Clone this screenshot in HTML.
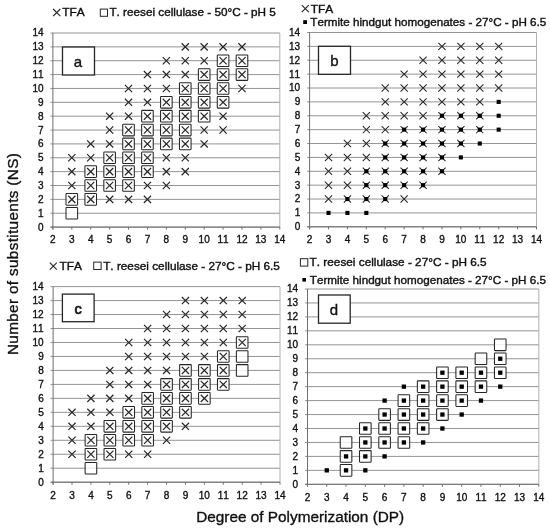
<!DOCTYPE html>
<html><head><meta charset="utf-8"><title>Figure</title>
<style>
html,body{margin:0;padding:0;background:#fff;}
body{width:550px;height:529px;overflow:hidden;}
svg{will-change:transform;}
svg{display:block;font-family:"Liberation Sans",sans-serif;font-kerning:none;}
text{stroke:#111;stroke-width:0.35px;}
</style></head><body>
<svg width="550" height="529" viewBox="0 0 550 529">
<rect width="550" height="529" fill="#fff"/>
<line x1="50.40" y1="227.10" x2="279.80" y2="227.10" stroke="#949494" stroke-width="1"/>
<line x1="50.40" y1="213.24" x2="279.80" y2="213.24" stroke="#949494" stroke-width="1"/>
<line x1="50.40" y1="199.37" x2="279.80" y2="199.37" stroke="#949494" stroke-width="1"/>
<line x1="50.40" y1="185.51" x2="279.80" y2="185.51" stroke="#949494" stroke-width="1"/>
<line x1="50.40" y1="171.64" x2="279.80" y2="171.64" stroke="#949494" stroke-width="1"/>
<line x1="50.40" y1="157.78" x2="279.80" y2="157.78" stroke="#949494" stroke-width="1"/>
<line x1="50.40" y1="143.91" x2="279.80" y2="143.91" stroke="#949494" stroke-width="1"/>
<line x1="50.40" y1="130.05" x2="279.80" y2="130.05" stroke="#949494" stroke-width="1"/>
<line x1="50.40" y1="116.19" x2="279.80" y2="116.19" stroke="#949494" stroke-width="1"/>
<line x1="50.40" y1="102.32" x2="279.80" y2="102.32" stroke="#949494" stroke-width="1"/>
<line x1="50.40" y1="88.46" x2="279.80" y2="88.46" stroke="#949494" stroke-width="1"/>
<line x1="50.40" y1="74.59" x2="279.80" y2="74.59" stroke="#949494" stroke-width="1"/>
<line x1="50.40" y1="60.73" x2="279.80" y2="60.73" stroke="#949494" stroke-width="1"/>
<line x1="50.40" y1="46.86" x2="279.80" y2="46.86" stroke="#949494" stroke-width="1"/>
<line x1="50.40" y1="33.00" x2="279.80" y2="33.00" stroke="#949494" stroke-width="1"/>
<line x1="279.80" y1="33.00" x2="279.80" y2="227.10" stroke="#b0b0b0" stroke-width="1"/>
<line x1="52.90" y1="33.00" x2="52.90" y2="229.60" stroke="#6e6e6e" stroke-width="1"/>
<line x1="50.40" y1="227.10" x2="279.80" y2="227.10" stroke="#6e6e6e" stroke-width="1"/>
<line x1="52.90" y1="227.10" x2="52.90" y2="229.60" stroke="#6e6e6e" stroke-width="1"/>
<text x="52.90" y="243.40" font-size="10.0" text-anchor="middle" fill="#111">2</text>
<line x1="71.81" y1="227.10" x2="71.81" y2="229.60" stroke="#6e6e6e" stroke-width="1"/>
<text x="71.81" y="243.40" font-size="10.0" text-anchor="middle" fill="#111">3</text>
<line x1="90.72" y1="227.10" x2="90.72" y2="229.60" stroke="#6e6e6e" stroke-width="1"/>
<text x="90.72" y="243.40" font-size="10.0" text-anchor="middle" fill="#111">4</text>
<line x1="109.62" y1="227.10" x2="109.62" y2="229.60" stroke="#6e6e6e" stroke-width="1"/>
<text x="109.62" y="243.40" font-size="10.0" text-anchor="middle" fill="#111">5</text>
<line x1="128.53" y1="227.10" x2="128.53" y2="229.60" stroke="#6e6e6e" stroke-width="1"/>
<text x="128.53" y="243.40" font-size="10.0" text-anchor="middle" fill="#111">6</text>
<line x1="147.44" y1="227.10" x2="147.44" y2="229.60" stroke="#6e6e6e" stroke-width="1"/>
<text x="147.44" y="243.40" font-size="10.0" text-anchor="middle" fill="#111">7</text>
<line x1="166.35" y1="227.10" x2="166.35" y2="229.60" stroke="#6e6e6e" stroke-width="1"/>
<text x="166.35" y="243.40" font-size="10.0" text-anchor="middle" fill="#111">8</text>
<line x1="185.26" y1="227.10" x2="185.26" y2="229.60" stroke="#6e6e6e" stroke-width="1"/>
<text x="185.26" y="243.40" font-size="10.0" text-anchor="middle" fill="#111">9</text>
<line x1="204.17" y1="227.10" x2="204.17" y2="229.60" stroke="#6e6e6e" stroke-width="1"/>
<text x="204.17" y="243.40" font-size="10.0" text-anchor="middle" fill="#111">10</text>
<line x1="223.08" y1="227.10" x2="223.08" y2="229.60" stroke="#6e6e6e" stroke-width="1"/>
<text x="223.08" y="243.40" font-size="10.0" text-anchor="middle" fill="#111">11</text>
<line x1="241.98" y1="227.10" x2="241.98" y2="229.60" stroke="#6e6e6e" stroke-width="1"/>
<text x="241.98" y="243.40" font-size="10.0" text-anchor="middle" fill="#111">12</text>
<line x1="260.89" y1="227.10" x2="260.89" y2="229.60" stroke="#6e6e6e" stroke-width="1"/>
<text x="260.89" y="243.40" font-size="10.0" text-anchor="middle" fill="#111">13</text>
<line x1="279.80" y1="227.10" x2="279.80" y2="229.60" stroke="#6e6e6e" stroke-width="1"/>
<text x="279.80" y="243.40" font-size="10.0" text-anchor="middle" fill="#111">14</text>
<text x="43.50" y="230.55" font-size="10.0" text-anchor="end" fill="#111">0</text>
<text x="43.50" y="216.69" font-size="10.0" text-anchor="end" fill="#111">1</text>
<text x="43.50" y="202.82" font-size="10.0" text-anchor="end" fill="#111">2</text>
<text x="43.50" y="188.96" font-size="10.0" text-anchor="end" fill="#111">3</text>
<text x="43.50" y="175.09" font-size="10.0" text-anchor="end" fill="#111">4</text>
<text x="43.50" y="161.23" font-size="10.0" text-anchor="end" fill="#111">5</text>
<text x="43.50" y="147.36" font-size="10.0" text-anchor="end" fill="#111">6</text>
<text x="43.50" y="133.50" font-size="10.0" text-anchor="end" fill="#111">7</text>
<text x="43.50" y="119.64" font-size="10.0" text-anchor="end" fill="#111">8</text>
<text x="43.50" y="105.77" font-size="10.0" text-anchor="end" fill="#111">9</text>
<text x="43.50" y="91.91" font-size="10.0" text-anchor="end" fill="#111">10</text>
<text x="43.50" y="78.04" font-size="10.0" text-anchor="end" fill="#111">11</text>
<text x="43.50" y="64.18" font-size="10.0" text-anchor="end" fill="#111">12</text>
<text x="43.50" y="50.31" font-size="10.0" text-anchor="end" fill="#111">13</text>
<text x="43.50" y="36.45" font-size="10.0" text-anchor="end" fill="#111">14</text>
<rect x="66.01" y="207.44" width="11.60" height="11.60" rx="0.6" fill="#fff" fill-opacity="0.8" stroke="#262626" stroke-width="1.05"/>
<rect x="66.01" y="193.57" width="11.60" height="11.60" rx="0.6" fill="#fff" fill-opacity="0.8" stroke="#262626" stroke-width="1.05"/>
<rect x="84.92" y="193.57" width="11.60" height="11.60" rx="0.6" fill="#fff" fill-opacity="0.8" stroke="#262626" stroke-width="1.05"/>
<rect x="84.92" y="179.71" width="11.60" height="11.60" rx="0.6" fill="#fff" fill-opacity="0.8" stroke="#262626" stroke-width="1.05"/>
<rect x="84.92" y="165.84" width="11.60" height="11.60" rx="0.6" fill="#fff" fill-opacity="0.8" stroke="#262626" stroke-width="1.05"/>
<rect x="103.83" y="179.71" width="11.60" height="11.60" rx="0.6" fill="#fff" fill-opacity="0.8" stroke="#262626" stroke-width="1.05"/>
<rect x="103.83" y="165.84" width="11.60" height="11.60" rx="0.6" fill="#fff" fill-opacity="0.8" stroke="#262626" stroke-width="1.05"/>
<rect x="103.83" y="151.98" width="11.60" height="11.60" rx="0.6" fill="#fff" fill-opacity="0.8" stroke="#262626" stroke-width="1.05"/>
<rect x="122.73" y="179.71" width="11.60" height="11.60" rx="0.6" fill="#fff" fill-opacity="0.8" stroke="#262626" stroke-width="1.05"/>
<rect x="122.73" y="165.84" width="11.60" height="11.60" rx="0.6" fill="#fff" fill-opacity="0.8" stroke="#262626" stroke-width="1.05"/>
<rect x="122.73" y="151.98" width="11.60" height="11.60" rx="0.6" fill="#fff" fill-opacity="0.8" stroke="#262626" stroke-width="1.05"/>
<rect x="122.73" y="138.11" width="11.60" height="11.60" rx="0.6" fill="#fff" fill-opacity="0.8" stroke="#262626" stroke-width="1.05"/>
<rect x="122.73" y="124.25" width="11.60" height="11.60" rx="0.6" fill="#fff" fill-opacity="0.8" stroke="#262626" stroke-width="1.05"/>
<rect x="141.64" y="165.84" width="11.60" height="11.60" rx="0.6" fill="#fff" fill-opacity="0.8" stroke="#262626" stroke-width="1.05"/>
<rect x="141.64" y="151.98" width="11.60" height="11.60" rx="0.6" fill="#fff" fill-opacity="0.8" stroke="#262626" stroke-width="1.05"/>
<rect x="141.64" y="138.11" width="11.60" height="11.60" rx="0.6" fill="#fff" fill-opacity="0.8" stroke="#262626" stroke-width="1.05"/>
<rect x="141.64" y="124.25" width="11.60" height="11.60" rx="0.6" fill="#fff" fill-opacity="0.8" stroke="#262626" stroke-width="1.05"/>
<rect x="141.64" y="110.39" width="11.60" height="11.60" rx="0.6" fill="#fff" fill-opacity="0.8" stroke="#262626" stroke-width="1.05"/>
<rect x="160.55" y="138.11" width="11.60" height="11.60" rx="0.6" fill="#fff" fill-opacity="0.8" stroke="#262626" stroke-width="1.05"/>
<rect x="160.55" y="124.25" width="11.60" height="11.60" rx="0.6" fill="#fff" fill-opacity="0.8" stroke="#262626" stroke-width="1.05"/>
<rect x="160.55" y="110.39" width="11.60" height="11.60" rx="0.6" fill="#fff" fill-opacity="0.8" stroke="#262626" stroke-width="1.05"/>
<rect x="160.55" y="96.52" width="11.60" height="11.60" rx="0.6" fill="#fff" fill-opacity="0.8" stroke="#262626" stroke-width="1.05"/>
<rect x="179.46" y="138.11" width="11.60" height="11.60" rx="0.6" fill="#fff" fill-opacity="0.8" stroke="#262626" stroke-width="1.05"/>
<rect x="179.46" y="124.25" width="11.60" height="11.60" rx="0.6" fill="#fff" fill-opacity="0.8" stroke="#262626" stroke-width="1.05"/>
<rect x="179.46" y="110.39" width="11.60" height="11.60" rx="0.6" fill="#fff" fill-opacity="0.8" stroke="#262626" stroke-width="1.05"/>
<rect x="179.46" y="96.52" width="11.60" height="11.60" rx="0.6" fill="#fff" fill-opacity="0.8" stroke="#262626" stroke-width="1.05"/>
<rect x="179.46" y="82.66" width="11.60" height="11.60" rx="0.6" fill="#fff" fill-opacity="0.8" stroke="#262626" stroke-width="1.05"/>
<rect x="198.37" y="110.39" width="11.60" height="11.60" rx="0.6" fill="#fff" fill-opacity="0.8" stroke="#262626" stroke-width="1.05"/>
<rect x="198.37" y="96.52" width="11.60" height="11.60" rx="0.6" fill="#fff" fill-opacity="0.8" stroke="#262626" stroke-width="1.05"/>
<rect x="198.37" y="82.66" width="11.60" height="11.60" rx="0.6" fill="#fff" fill-opacity="0.8" stroke="#262626" stroke-width="1.05"/>
<rect x="198.37" y="68.79" width="11.60" height="11.60" rx="0.6" fill="#fff" fill-opacity="0.8" stroke="#262626" stroke-width="1.05"/>
<rect x="217.28" y="96.52" width="11.60" height="11.60" rx="0.6" fill="#fff" fill-opacity="0.8" stroke="#262626" stroke-width="1.05"/>
<rect x="217.28" y="82.66" width="11.60" height="11.60" rx="0.6" fill="#fff" fill-opacity="0.8" stroke="#262626" stroke-width="1.05"/>
<rect x="217.28" y="68.79" width="11.60" height="11.60" rx="0.6" fill="#fff" fill-opacity="0.8" stroke="#262626" stroke-width="1.05"/>
<rect x="217.28" y="54.93" width="11.60" height="11.60" rx="0.6" fill="#fff" fill-opacity="0.8" stroke="#262626" stroke-width="1.05"/>
<rect x="236.18" y="68.79" width="11.60" height="11.60" rx="0.6" fill="#fff" fill-opacity="0.8" stroke="#262626" stroke-width="1.05"/>
<rect x="236.18" y="54.93" width="11.60" height="11.60" rx="0.6" fill="#fff" fill-opacity="0.8" stroke="#262626" stroke-width="1.05"/>
<path d="M68.21 195.77L75.41 202.97M68.21 202.97L75.41 195.77" stroke="#262626" stroke-width="1.2" fill="none"/>
<path d="M68.21 181.91L75.41 189.11M68.21 189.11L75.41 181.91" stroke="#262626" stroke-width="1.2" fill="none"/>
<path d="M68.21 168.04L75.41 175.24M68.21 175.24L75.41 168.04" stroke="#262626" stroke-width="1.2" fill="none"/>
<path d="M68.21 154.18L75.41 161.38M68.21 161.38L75.41 154.18" stroke="#262626" stroke-width="1.2" fill="none"/>
<path d="M87.12 195.77L94.32 202.97M87.12 202.97L94.32 195.77" stroke="#262626" stroke-width="1.2" fill="none"/>
<path d="M87.12 181.91L94.32 189.11M87.12 189.11L94.32 181.91" stroke="#262626" stroke-width="1.2" fill="none"/>
<path d="M87.12 168.04L94.32 175.24M87.12 175.24L94.32 168.04" stroke="#262626" stroke-width="1.2" fill="none"/>
<path d="M87.12 154.18L94.32 161.38M87.12 161.38L94.32 154.18" stroke="#262626" stroke-width="1.2" fill="none"/>
<path d="M87.12 140.31L94.32 147.51M87.12 147.51L94.32 140.31" stroke="#262626" stroke-width="1.2" fill="none"/>
<path d="M106.03 195.77L113.22 202.97M106.03 202.97L113.22 195.77" stroke="#262626" stroke-width="1.2" fill="none"/>
<path d="M106.03 181.91L113.22 189.11M106.03 189.11L113.22 181.91" stroke="#262626" stroke-width="1.2" fill="none"/>
<path d="M106.03 168.04L113.22 175.24M106.03 175.24L113.22 168.04" stroke="#262626" stroke-width="1.2" fill="none"/>
<path d="M106.03 154.18L113.22 161.38M106.03 161.38L113.22 154.18" stroke="#262626" stroke-width="1.2" fill="none"/>
<path d="M106.03 140.31L113.22 147.51M106.03 147.51L113.22 140.31" stroke="#262626" stroke-width="1.2" fill="none"/>
<path d="M106.03 126.45L113.22 133.65M106.03 133.65L113.22 126.45" stroke="#262626" stroke-width="1.2" fill="none"/>
<path d="M106.03 112.59L113.22 119.79M106.03 119.79L113.22 112.59" stroke="#262626" stroke-width="1.2" fill="none"/>
<path d="M124.93 195.77L132.13 202.97M124.93 202.97L132.13 195.77" stroke="#262626" stroke-width="1.2" fill="none"/>
<path d="M124.93 181.91L132.13 189.11M124.93 189.11L132.13 181.91" stroke="#262626" stroke-width="1.2" fill="none"/>
<path d="M124.93 168.04L132.13 175.24M124.93 175.24L132.13 168.04" stroke="#262626" stroke-width="1.2" fill="none"/>
<path d="M124.93 154.18L132.13 161.38M124.93 161.38L132.13 154.18" stroke="#262626" stroke-width="1.2" fill="none"/>
<path d="M124.93 140.31L132.13 147.51M124.93 147.51L132.13 140.31" stroke="#262626" stroke-width="1.2" fill="none"/>
<path d="M124.93 126.45L132.13 133.65M124.93 133.65L132.13 126.45" stroke="#262626" stroke-width="1.2" fill="none"/>
<path d="M124.93 112.59L132.13 119.79M124.93 119.79L132.13 112.59" stroke="#262626" stroke-width="1.2" fill="none"/>
<path d="M124.93 98.72L132.13 105.92M124.93 105.92L132.13 98.72" stroke="#262626" stroke-width="1.2" fill="none"/>
<path d="M124.93 84.86L132.13 92.06M124.93 92.06L132.13 84.86" stroke="#262626" stroke-width="1.2" fill="none"/>
<path d="M143.84 195.77L151.04 202.97M143.84 202.97L151.04 195.77" stroke="#262626" stroke-width="1.2" fill="none"/>
<path d="M143.84 181.91L151.04 189.11M143.84 189.11L151.04 181.91" stroke="#262626" stroke-width="1.2" fill="none"/>
<path d="M143.84 168.04L151.04 175.24M143.84 175.24L151.04 168.04" stroke="#262626" stroke-width="1.2" fill="none"/>
<path d="M143.84 154.18L151.04 161.38M143.84 161.38L151.04 154.18" stroke="#262626" stroke-width="1.2" fill="none"/>
<path d="M143.84 140.31L151.04 147.51M143.84 147.51L151.04 140.31" stroke="#262626" stroke-width="1.2" fill="none"/>
<path d="M143.84 126.45L151.04 133.65M143.84 133.65L151.04 126.45" stroke="#262626" stroke-width="1.2" fill="none"/>
<path d="M143.84 112.59L151.04 119.79M143.84 119.79L151.04 112.59" stroke="#262626" stroke-width="1.2" fill="none"/>
<path d="M143.84 98.72L151.04 105.92M143.84 105.92L151.04 98.72" stroke="#262626" stroke-width="1.2" fill="none"/>
<path d="M143.84 84.86L151.04 92.06M143.84 92.06L151.04 84.86" stroke="#262626" stroke-width="1.2" fill="none"/>
<path d="M143.84 70.99L151.04 78.19M143.84 78.19L151.04 70.99" stroke="#262626" stroke-width="1.2" fill="none"/>
<path d="M162.75 181.91L169.95 189.11M162.75 189.11L169.95 181.91" stroke="#262626" stroke-width="1.2" fill="none"/>
<path d="M162.75 168.04L169.95 175.24M162.75 175.24L169.95 168.04" stroke="#262626" stroke-width="1.2" fill="none"/>
<path d="M162.75 154.18L169.95 161.38M162.75 161.38L169.95 154.18" stroke="#262626" stroke-width="1.2" fill="none"/>
<path d="M162.75 140.31L169.95 147.51M162.75 147.51L169.95 140.31" stroke="#262626" stroke-width="1.2" fill="none"/>
<path d="M162.75 126.45L169.95 133.65M162.75 133.65L169.95 126.45" stroke="#262626" stroke-width="1.2" fill="none"/>
<path d="M162.75 112.59L169.95 119.79M162.75 119.79L169.95 112.59" stroke="#262626" stroke-width="1.2" fill="none"/>
<path d="M162.75 98.72L169.95 105.92M162.75 105.92L169.95 98.72" stroke="#262626" stroke-width="1.2" fill="none"/>
<path d="M162.75 84.86L169.95 92.06M162.75 92.06L169.95 84.86" stroke="#262626" stroke-width="1.2" fill="none"/>
<path d="M162.75 70.99L169.95 78.19M162.75 78.19L169.95 70.99" stroke="#262626" stroke-width="1.2" fill="none"/>
<path d="M162.75 57.13L169.95 64.33M162.75 64.33L169.95 57.13" stroke="#262626" stroke-width="1.2" fill="none"/>
<path d="M181.66 168.04L188.86 175.24M181.66 175.24L188.86 168.04" stroke="#262626" stroke-width="1.2" fill="none"/>
<path d="M181.66 154.18L188.86 161.38M181.66 161.38L188.86 154.18" stroke="#262626" stroke-width="1.2" fill="none"/>
<path d="M181.66 140.31L188.86 147.51M181.66 147.51L188.86 140.31" stroke="#262626" stroke-width="1.2" fill="none"/>
<path d="M181.66 126.45L188.86 133.65M181.66 133.65L188.86 126.45" stroke="#262626" stroke-width="1.2" fill="none"/>
<path d="M181.66 112.59L188.86 119.79M181.66 119.79L188.86 112.59" stroke="#262626" stroke-width="1.2" fill="none"/>
<path d="M181.66 98.72L188.86 105.92M181.66 105.92L188.86 98.72" stroke="#262626" stroke-width="1.2" fill="none"/>
<path d="M181.66 84.86L188.86 92.06M181.66 92.06L188.86 84.86" stroke="#262626" stroke-width="1.2" fill="none"/>
<path d="M181.66 70.99L188.86 78.19M181.66 78.19L188.86 70.99" stroke="#262626" stroke-width="1.2" fill="none"/>
<path d="M181.66 57.13L188.86 64.33M181.66 64.33L188.86 57.13" stroke="#262626" stroke-width="1.2" fill="none"/>
<path d="M181.66 43.26L188.86 50.46M181.66 50.46L188.86 43.26" stroke="#262626" stroke-width="1.2" fill="none"/>
<path d="M200.57 140.31L207.77 147.51M200.57 147.51L207.77 140.31" stroke="#262626" stroke-width="1.2" fill="none"/>
<path d="M200.57 126.45L207.77 133.65M200.57 133.65L207.77 126.45" stroke="#262626" stroke-width="1.2" fill="none"/>
<path d="M200.57 112.59L207.77 119.79M200.57 119.79L207.77 112.59" stroke="#262626" stroke-width="1.2" fill="none"/>
<path d="M200.57 98.72L207.77 105.92M200.57 105.92L207.77 98.72" stroke="#262626" stroke-width="1.2" fill="none"/>
<path d="M200.57 84.86L207.77 92.06M200.57 92.06L207.77 84.86" stroke="#262626" stroke-width="1.2" fill="none"/>
<path d="M200.57 70.99L207.77 78.19M200.57 78.19L207.77 70.99" stroke="#262626" stroke-width="1.2" fill="none"/>
<path d="M200.57 57.13L207.77 64.33M200.57 64.33L207.77 57.13" stroke="#262626" stroke-width="1.2" fill="none"/>
<path d="M200.57 43.26L207.77 50.46M200.57 50.46L207.77 43.26" stroke="#262626" stroke-width="1.2" fill="none"/>
<path d="M219.48 126.45L226.68 133.65M219.48 133.65L226.68 126.45" stroke="#262626" stroke-width="1.2" fill="none"/>
<path d="M219.48 112.59L226.68 119.79M219.48 119.79L226.68 112.59" stroke="#262626" stroke-width="1.2" fill="none"/>
<path d="M219.48 98.72L226.68 105.92M219.48 105.92L226.68 98.72" stroke="#262626" stroke-width="1.2" fill="none"/>
<path d="M219.48 84.86L226.68 92.06M219.48 92.06L226.68 84.86" stroke="#262626" stroke-width="1.2" fill="none"/>
<path d="M219.48 70.99L226.68 78.19M219.48 78.19L226.68 70.99" stroke="#262626" stroke-width="1.2" fill="none"/>
<path d="M219.48 57.13L226.68 64.33M219.48 64.33L226.68 57.13" stroke="#262626" stroke-width="1.2" fill="none"/>
<path d="M219.48 43.26L226.68 50.46M219.48 50.46L226.68 43.26" stroke="#262626" stroke-width="1.2" fill="none"/>
<path d="M238.38 84.86L245.58 92.06M238.38 92.06L245.58 84.86" stroke="#262626" stroke-width="1.2" fill="none"/>
<path d="M238.38 70.99L245.58 78.19M238.38 78.19L245.58 70.99" stroke="#262626" stroke-width="1.2" fill="none"/>
<path d="M238.38 57.13L245.58 64.33M238.38 64.33L245.58 57.13" stroke="#262626" stroke-width="1.2" fill="none"/>
<path d="M238.38 43.26L245.58 50.46M238.38 50.46L245.58 43.26" stroke="#262626" stroke-width="1.2" fill="none"/>
<rect x="62.5" y="47" width="32.00" height="28.00" fill="#fff" stroke="#262626" stroke-width="1.3"/>
<text x="77.9" y="66.7" font-size="15" text-anchor="middle" fill="#111">a</text>
<line x1="307.10" y1="226.80" x2="536.50" y2="226.80" stroke="#949494" stroke-width="1"/>
<line x1="307.10" y1="212.92" x2="536.50" y2="212.92" stroke="#949494" stroke-width="1"/>
<line x1="307.10" y1="199.04" x2="536.50" y2="199.04" stroke="#949494" stroke-width="1"/>
<line x1="307.10" y1="185.16" x2="536.50" y2="185.16" stroke="#949494" stroke-width="1"/>
<line x1="307.10" y1="171.29" x2="536.50" y2="171.29" stroke="#949494" stroke-width="1"/>
<line x1="307.10" y1="157.41" x2="536.50" y2="157.41" stroke="#949494" stroke-width="1"/>
<line x1="307.10" y1="143.53" x2="536.50" y2="143.53" stroke="#949494" stroke-width="1"/>
<line x1="307.10" y1="129.65" x2="536.50" y2="129.65" stroke="#949494" stroke-width="1"/>
<line x1="307.10" y1="115.77" x2="536.50" y2="115.77" stroke="#949494" stroke-width="1"/>
<line x1="307.10" y1="101.89" x2="536.50" y2="101.89" stroke="#949494" stroke-width="1"/>
<line x1="307.10" y1="88.01" x2="536.50" y2="88.01" stroke="#949494" stroke-width="1"/>
<line x1="307.10" y1="74.14" x2="536.50" y2="74.14" stroke="#949494" stroke-width="1"/>
<line x1="307.10" y1="60.26" x2="536.50" y2="60.26" stroke="#949494" stroke-width="1"/>
<line x1="307.10" y1="46.38" x2="536.50" y2="46.38" stroke="#949494" stroke-width="1"/>
<line x1="307.10" y1="32.50" x2="536.50" y2="32.50" stroke="#949494" stroke-width="1"/>
<line x1="536.50" y1="32.50" x2="536.50" y2="226.80" stroke="#b0b0b0" stroke-width="1"/>
<line x1="309.60" y1="32.50" x2="309.60" y2="229.30" stroke="#6e6e6e" stroke-width="1"/>
<line x1="307.10" y1="226.80" x2="536.50" y2="226.80" stroke="#6e6e6e" stroke-width="1"/>
<line x1="309.60" y1="226.80" x2="309.60" y2="229.30" stroke="#6e6e6e" stroke-width="1"/>
<text x="309.60" y="243.40" font-size="10.0" text-anchor="middle" fill="#111">2</text>
<line x1="328.51" y1="226.80" x2="328.51" y2="229.30" stroke="#6e6e6e" stroke-width="1"/>
<text x="328.51" y="243.40" font-size="10.0" text-anchor="middle" fill="#111">3</text>
<line x1="347.42" y1="226.80" x2="347.42" y2="229.30" stroke="#6e6e6e" stroke-width="1"/>
<text x="347.42" y="243.40" font-size="10.0" text-anchor="middle" fill="#111">4</text>
<line x1="366.33" y1="226.80" x2="366.33" y2="229.30" stroke="#6e6e6e" stroke-width="1"/>
<text x="366.33" y="243.40" font-size="10.0" text-anchor="middle" fill="#111">5</text>
<line x1="385.23" y1="226.80" x2="385.23" y2="229.30" stroke="#6e6e6e" stroke-width="1"/>
<text x="385.23" y="243.40" font-size="10.0" text-anchor="middle" fill="#111">6</text>
<line x1="404.14" y1="226.80" x2="404.14" y2="229.30" stroke="#6e6e6e" stroke-width="1"/>
<text x="404.14" y="243.40" font-size="10.0" text-anchor="middle" fill="#111">7</text>
<line x1="423.05" y1="226.80" x2="423.05" y2="229.30" stroke="#6e6e6e" stroke-width="1"/>
<text x="423.05" y="243.40" font-size="10.0" text-anchor="middle" fill="#111">8</text>
<line x1="441.96" y1="226.80" x2="441.96" y2="229.30" stroke="#6e6e6e" stroke-width="1"/>
<text x="441.96" y="243.40" font-size="10.0" text-anchor="middle" fill="#111">9</text>
<line x1="460.87" y1="226.80" x2="460.87" y2="229.30" stroke="#6e6e6e" stroke-width="1"/>
<text x="460.87" y="243.40" font-size="10.0" text-anchor="middle" fill="#111">10</text>
<line x1="479.77" y1="226.80" x2="479.77" y2="229.30" stroke="#6e6e6e" stroke-width="1"/>
<text x="479.77" y="243.40" font-size="10.0" text-anchor="middle" fill="#111">11</text>
<line x1="498.68" y1="226.80" x2="498.68" y2="229.30" stroke="#6e6e6e" stroke-width="1"/>
<text x="498.68" y="243.40" font-size="10.0" text-anchor="middle" fill="#111">12</text>
<line x1="517.59" y1="226.80" x2="517.59" y2="229.30" stroke="#6e6e6e" stroke-width="1"/>
<text x="517.59" y="243.40" font-size="10.0" text-anchor="middle" fill="#111">13</text>
<line x1="536.50" y1="226.80" x2="536.50" y2="229.30" stroke="#6e6e6e" stroke-width="1"/>
<text x="536.50" y="243.40" font-size="10.0" text-anchor="middle" fill="#111">14</text>
<text x="300.20" y="230.25" font-size="10.0" text-anchor="end" fill="#111">0</text>
<text x="300.20" y="216.37" font-size="10.0" text-anchor="end" fill="#111">1</text>
<text x="300.20" y="202.49" font-size="10.0" text-anchor="end" fill="#111">2</text>
<text x="300.20" y="188.61" font-size="10.0" text-anchor="end" fill="#111">3</text>
<text x="300.20" y="174.74" font-size="10.0" text-anchor="end" fill="#111">4</text>
<text x="300.20" y="160.86" font-size="10.0" text-anchor="end" fill="#111">5</text>
<text x="300.20" y="146.98" font-size="10.0" text-anchor="end" fill="#111">6</text>
<text x="300.20" y="133.10" font-size="10.0" text-anchor="end" fill="#111">7</text>
<text x="300.20" y="119.22" font-size="10.0" text-anchor="end" fill="#111">8</text>
<text x="300.20" y="105.34" font-size="10.0" text-anchor="end" fill="#111">9</text>
<text x="300.20" y="91.46" font-size="10.0" text-anchor="end" fill="#111">10</text>
<text x="300.20" y="77.59" font-size="10.0" text-anchor="end" fill="#111">11</text>
<text x="300.20" y="63.71" font-size="10.0" text-anchor="end" fill="#111">12</text>
<text x="300.20" y="49.83" font-size="10.0" text-anchor="end" fill="#111">13</text>
<text x="300.20" y="35.95" font-size="10.0" text-anchor="end" fill="#111">14</text>
<path d="M324.91 195.44L332.11 202.64M324.91 202.64L332.11 195.44" stroke="#262626" stroke-width="1.05" fill="none"/>
<path d="M324.91 181.56L332.11 188.76M324.91 188.76L332.11 181.56" stroke="#262626" stroke-width="1.05" fill="none"/>
<path d="M324.91 167.69L332.11 174.89M324.91 174.89L332.11 167.69" stroke="#262626" stroke-width="1.05" fill="none"/>
<path d="M324.91 153.81L332.11 161.01M324.91 161.01L332.11 153.81" stroke="#262626" stroke-width="1.05" fill="none"/>
<path d="M343.82 195.44L351.02 202.64M343.82 202.64L351.02 195.44" stroke="#262626" stroke-width="1.05" fill="none"/>
<path d="M343.82 181.56L351.02 188.76M343.82 188.76L351.02 181.56" stroke="#262626" stroke-width="1.05" fill="none"/>
<path d="M343.82 167.69L351.02 174.89M343.82 174.89L351.02 167.69" stroke="#262626" stroke-width="1.05" fill="none"/>
<path d="M343.82 153.81L351.02 161.01M343.82 161.01L351.02 153.81" stroke="#262626" stroke-width="1.05" fill="none"/>
<path d="M343.82 139.93L351.02 147.13M343.82 147.13L351.02 139.93" stroke="#262626" stroke-width="1.05" fill="none"/>
<path d="M362.73 195.44L369.93 202.64M362.73 202.64L369.93 195.44" stroke="#262626" stroke-width="1.05" fill="none"/>
<path d="M362.73 181.56L369.93 188.76M362.73 188.76L369.93 181.56" stroke="#262626" stroke-width="1.05" fill="none"/>
<path d="M362.73 167.69L369.93 174.89M362.73 174.89L369.93 167.69" stroke="#262626" stroke-width="1.05" fill="none"/>
<path d="M362.73 153.81L369.93 161.01M362.73 161.01L369.93 153.81" stroke="#262626" stroke-width="1.05" fill="none"/>
<path d="M362.73 139.93L369.93 147.13M362.73 147.13L369.93 139.93" stroke="#262626" stroke-width="1.05" fill="none"/>
<path d="M362.73 126.05L369.93 133.25M362.73 133.25L369.93 126.05" stroke="#262626" stroke-width="1.05" fill="none"/>
<path d="M362.73 112.17L369.93 119.37M362.73 119.37L369.93 112.17" stroke="#262626" stroke-width="1.05" fill="none"/>
<path d="M381.63 195.44L388.83 202.64M381.63 202.64L388.83 195.44" stroke="#262626" stroke-width="1.05" fill="none"/>
<path d="M381.63 181.56L388.83 188.76M381.63 188.76L388.83 181.56" stroke="#262626" stroke-width="1.05" fill="none"/>
<path d="M381.63 167.69L388.83 174.89M381.63 174.89L388.83 167.69" stroke="#262626" stroke-width="1.05" fill="none"/>
<path d="M381.63 153.81L388.83 161.01M381.63 161.01L388.83 153.81" stroke="#262626" stroke-width="1.05" fill="none"/>
<path d="M381.63 139.93L388.83 147.13M381.63 147.13L388.83 139.93" stroke="#262626" stroke-width="1.05" fill="none"/>
<path d="M381.63 126.05L388.83 133.25M381.63 133.25L388.83 126.05" stroke="#262626" stroke-width="1.05" fill="none"/>
<path d="M381.63 112.17L388.83 119.37M381.63 119.37L388.83 112.17" stroke="#262626" stroke-width="1.05" fill="none"/>
<path d="M381.63 98.29L388.83 105.49M381.63 105.49L388.83 98.29" stroke="#262626" stroke-width="1.05" fill="none"/>
<path d="M381.63 84.41L388.83 91.61M381.63 91.61L388.83 84.41" stroke="#262626" stroke-width="1.05" fill="none"/>
<path d="M400.54 195.44L407.74 202.64M400.54 202.64L407.74 195.44" stroke="#262626" stroke-width="1.05" fill="none"/>
<path d="M400.54 181.56L407.74 188.76M400.54 188.76L407.74 181.56" stroke="#262626" stroke-width="1.05" fill="none"/>
<path d="M400.54 167.69L407.74 174.89M400.54 174.89L407.74 167.69" stroke="#262626" stroke-width="1.05" fill="none"/>
<path d="M400.54 153.81L407.74 161.01M400.54 161.01L407.74 153.81" stroke="#262626" stroke-width="1.05" fill="none"/>
<path d="M400.54 139.93L407.74 147.13M400.54 147.13L407.74 139.93" stroke="#262626" stroke-width="1.05" fill="none"/>
<path d="M400.54 126.05L407.74 133.25M400.54 133.25L407.74 126.05" stroke="#262626" stroke-width="1.05" fill="none"/>
<path d="M400.54 112.17L407.74 119.37M400.54 119.37L407.74 112.17" stroke="#262626" stroke-width="1.05" fill="none"/>
<path d="M400.54 98.29L407.74 105.49M400.54 105.49L407.74 98.29" stroke="#262626" stroke-width="1.05" fill="none"/>
<path d="M400.54 84.41L407.74 91.61M400.54 91.61L407.74 84.41" stroke="#262626" stroke-width="1.05" fill="none"/>
<path d="M400.54 70.54L407.74 77.74M400.54 77.74L407.74 70.54" stroke="#262626" stroke-width="1.05" fill="none"/>
<path d="M419.45 181.56L426.65 188.76M419.45 188.76L426.65 181.56" stroke="#262626" stroke-width="1.05" fill="none"/>
<path d="M419.45 167.69L426.65 174.89M419.45 174.89L426.65 167.69" stroke="#262626" stroke-width="1.05" fill="none"/>
<path d="M419.45 153.81L426.65 161.01M419.45 161.01L426.65 153.81" stroke="#262626" stroke-width="1.05" fill="none"/>
<path d="M419.45 139.93L426.65 147.13M419.45 147.13L426.65 139.93" stroke="#262626" stroke-width="1.05" fill="none"/>
<path d="M419.45 126.05L426.65 133.25M419.45 133.25L426.65 126.05" stroke="#262626" stroke-width="1.05" fill="none"/>
<path d="M419.45 112.17L426.65 119.37M419.45 119.37L426.65 112.17" stroke="#262626" stroke-width="1.05" fill="none"/>
<path d="M419.45 98.29L426.65 105.49M419.45 105.49L426.65 98.29" stroke="#262626" stroke-width="1.05" fill="none"/>
<path d="M419.45 84.41L426.65 91.61M419.45 91.61L426.65 84.41" stroke="#262626" stroke-width="1.05" fill="none"/>
<path d="M419.45 70.54L426.65 77.74M419.45 77.74L426.65 70.54" stroke="#262626" stroke-width="1.05" fill="none"/>
<path d="M419.45 56.66L426.65 63.86M419.45 63.86L426.65 56.66" stroke="#262626" stroke-width="1.05" fill="none"/>
<path d="M438.36 167.69L445.56 174.89M438.36 174.89L445.56 167.69" stroke="#262626" stroke-width="1.05" fill="none"/>
<path d="M438.36 153.81L445.56 161.01M438.36 161.01L445.56 153.81" stroke="#262626" stroke-width="1.05" fill="none"/>
<path d="M438.36 139.93L445.56 147.13M438.36 147.13L445.56 139.93" stroke="#262626" stroke-width="1.05" fill="none"/>
<path d="M438.36 126.05L445.56 133.25M438.36 133.25L445.56 126.05" stroke="#262626" stroke-width="1.05" fill="none"/>
<path d="M438.36 112.17L445.56 119.37M438.36 119.37L445.56 112.17" stroke="#262626" stroke-width="1.05" fill="none"/>
<path d="M438.36 98.29L445.56 105.49M438.36 105.49L445.56 98.29" stroke="#262626" stroke-width="1.05" fill="none"/>
<path d="M438.36 84.41L445.56 91.61M438.36 91.61L445.56 84.41" stroke="#262626" stroke-width="1.05" fill="none"/>
<path d="M438.36 70.54L445.56 77.74M438.36 77.74L445.56 70.54" stroke="#262626" stroke-width="1.05" fill="none"/>
<path d="M438.36 56.66L445.56 63.86M438.36 63.86L445.56 56.66" stroke="#262626" stroke-width="1.05" fill="none"/>
<path d="M438.36 42.78L445.56 49.98M438.36 49.98L445.56 42.78" stroke="#262626" stroke-width="1.05" fill="none"/>
<path d="M457.27 139.93L464.47 147.13M457.27 147.13L464.47 139.93" stroke="#262626" stroke-width="1.05" fill="none"/>
<path d="M457.27 126.05L464.47 133.25M457.27 133.25L464.47 126.05" stroke="#262626" stroke-width="1.05" fill="none"/>
<path d="M457.27 112.17L464.47 119.37M457.27 119.37L464.47 112.17" stroke="#262626" stroke-width="1.05" fill="none"/>
<path d="M457.27 98.29L464.47 105.49M457.27 105.49L464.47 98.29" stroke="#262626" stroke-width="1.05" fill="none"/>
<path d="M457.27 84.41L464.47 91.61M457.27 91.61L464.47 84.41" stroke="#262626" stroke-width="1.05" fill="none"/>
<path d="M457.27 70.54L464.47 77.74M457.27 77.74L464.47 70.54" stroke="#262626" stroke-width="1.05" fill="none"/>
<path d="M457.27 56.66L464.47 63.86M457.27 63.86L464.47 56.66" stroke="#262626" stroke-width="1.05" fill="none"/>
<path d="M457.27 42.78L464.47 49.98M457.27 49.98L464.47 42.78" stroke="#262626" stroke-width="1.05" fill="none"/>
<path d="M476.17 126.05L483.38 133.25M476.17 133.25L483.38 126.05" stroke="#262626" stroke-width="1.05" fill="none"/>
<path d="M476.17 112.17L483.38 119.37M476.17 119.37L483.38 112.17" stroke="#262626" stroke-width="1.05" fill="none"/>
<path d="M476.17 98.29L483.38 105.49M476.17 105.49L483.38 98.29" stroke="#262626" stroke-width="1.05" fill="none"/>
<path d="M476.17 84.41L483.38 91.61M476.17 91.61L483.38 84.41" stroke="#262626" stroke-width="1.05" fill="none"/>
<path d="M476.17 70.54L483.38 77.74M476.17 77.74L483.38 70.54" stroke="#262626" stroke-width="1.05" fill="none"/>
<path d="M476.17 56.66L483.38 63.86M476.17 63.86L483.38 56.66" stroke="#262626" stroke-width="1.05" fill="none"/>
<path d="M476.17 42.78L483.38 49.98M476.17 49.98L483.38 42.78" stroke="#262626" stroke-width="1.05" fill="none"/>
<path d="M495.08 84.41L502.28 91.61M495.08 91.61L502.28 84.41" stroke="#262626" stroke-width="1.05" fill="none"/>
<path d="M495.08 70.54L502.28 77.74M495.08 77.74L502.28 70.54" stroke="#262626" stroke-width="1.05" fill="none"/>
<path d="M495.08 56.66L502.28 63.86M495.08 63.86L502.28 56.66" stroke="#262626" stroke-width="1.05" fill="none"/>
<path d="M495.08 42.78L502.28 49.98M495.08 49.98L502.28 42.78" stroke="#262626" stroke-width="1.05" fill="none"/>
<rect x="326.46" y="210.87" width="4.10" height="4.10" fill="#000"/>
<rect x="345.37" y="210.87" width="4.10" height="4.10" fill="#000"/>
<rect x="345.37" y="196.99" width="4.10" height="4.10" fill="#000"/>
<rect x="364.28" y="210.87" width="4.10" height="4.10" fill="#000"/>
<rect x="364.28" y="196.99" width="4.10" height="4.10" fill="#000"/>
<rect x="364.28" y="183.11" width="4.10" height="4.10" fill="#000"/>
<rect x="364.28" y="169.24" width="4.10" height="4.10" fill="#000"/>
<rect x="383.18" y="196.99" width="4.10" height="4.10" fill="#000"/>
<rect x="383.18" y="183.11" width="4.10" height="4.10" fill="#000"/>
<rect x="383.18" y="169.24" width="4.10" height="4.10" fill="#000"/>
<rect x="383.18" y="155.36" width="4.10" height="4.10" fill="#000"/>
<rect x="383.18" y="141.48" width="4.10" height="4.10" fill="#000"/>
<rect x="402.09" y="183.11" width="4.10" height="4.10" fill="#000"/>
<rect x="402.09" y="169.24" width="4.10" height="4.10" fill="#000"/>
<rect x="402.09" y="155.36" width="4.10" height="4.10" fill="#000"/>
<rect x="402.09" y="141.48" width="4.10" height="4.10" fill="#000"/>
<rect x="402.09" y="127.60" width="4.10" height="4.10" fill="#000"/>
<rect x="421.00" y="183.11" width="4.10" height="4.10" fill="#000"/>
<rect x="421.00" y="169.24" width="4.10" height="4.10" fill="#000"/>
<rect x="421.00" y="155.36" width="4.10" height="4.10" fill="#000"/>
<rect x="421.00" y="141.48" width="4.10" height="4.10" fill="#000"/>
<rect x="421.00" y="127.60" width="4.10" height="4.10" fill="#000"/>
<rect x="439.91" y="169.24" width="4.10" height="4.10" fill="#000"/>
<rect x="439.91" y="155.36" width="4.10" height="4.10" fill="#000"/>
<rect x="439.91" y="141.48" width="4.10" height="4.10" fill="#000"/>
<rect x="439.91" y="127.60" width="4.10" height="4.10" fill="#000"/>
<rect x="439.91" y="113.72" width="4.10" height="4.10" fill="#000"/>
<rect x="458.82" y="155.36" width="4.10" height="4.10" fill="#000"/>
<rect x="458.82" y="141.48" width="4.10" height="4.10" fill="#000"/>
<rect x="458.82" y="127.60" width="4.10" height="4.10" fill="#000"/>
<rect x="458.82" y="113.72" width="4.10" height="4.10" fill="#000"/>
<rect x="477.72" y="141.48" width="4.10" height="4.10" fill="#000"/>
<rect x="477.72" y="127.60" width="4.10" height="4.10" fill="#000"/>
<rect x="477.72" y="113.72" width="4.10" height="4.10" fill="#000"/>
<rect x="496.63" y="127.60" width="4.10" height="4.10" fill="#000"/>
<rect x="496.63" y="113.72" width="4.10" height="4.10" fill="#000"/>
<rect x="496.63" y="99.84" width="4.10" height="4.10" fill="#000"/>
<rect x="318.5" y="46.3" width="32.00" height="28.00" fill="#fff" stroke="#262626" stroke-width="1.3"/>
<text x="334.3" y="65.8" font-size="15" text-anchor="middle" fill="#111">b</text>
<line x1="50.60" y1="482.20" x2="280.00" y2="482.20" stroke="#949494" stroke-width="1"/>
<line x1="50.60" y1="468.23" x2="280.00" y2="468.23" stroke="#949494" stroke-width="1"/>
<line x1="50.60" y1="454.26" x2="280.00" y2="454.26" stroke="#949494" stroke-width="1"/>
<line x1="50.60" y1="440.29" x2="280.00" y2="440.29" stroke="#949494" stroke-width="1"/>
<line x1="50.60" y1="426.31" x2="280.00" y2="426.31" stroke="#949494" stroke-width="1"/>
<line x1="50.60" y1="412.34" x2="280.00" y2="412.34" stroke="#949494" stroke-width="1"/>
<line x1="50.60" y1="398.37" x2="280.00" y2="398.37" stroke="#949494" stroke-width="1"/>
<line x1="50.60" y1="384.40" x2="280.00" y2="384.40" stroke="#949494" stroke-width="1"/>
<line x1="50.60" y1="370.43" x2="280.00" y2="370.43" stroke="#949494" stroke-width="1"/>
<line x1="50.60" y1="356.46" x2="280.00" y2="356.46" stroke="#949494" stroke-width="1"/>
<line x1="50.60" y1="342.49" x2="280.00" y2="342.49" stroke="#949494" stroke-width="1"/>
<line x1="50.60" y1="328.51" x2="280.00" y2="328.51" stroke="#949494" stroke-width="1"/>
<line x1="50.60" y1="314.54" x2="280.00" y2="314.54" stroke="#949494" stroke-width="1"/>
<line x1="50.60" y1="300.57" x2="280.00" y2="300.57" stroke="#949494" stroke-width="1"/>
<line x1="50.60" y1="286.60" x2="280.00" y2="286.60" stroke="#949494" stroke-width="1"/>
<line x1="280.00" y1="286.60" x2="280.00" y2="482.20" stroke="#b0b0b0" stroke-width="1"/>
<line x1="53.10" y1="286.60" x2="53.10" y2="484.70" stroke="#6e6e6e" stroke-width="1"/>
<line x1="50.60" y1="482.20" x2="280.00" y2="482.20" stroke="#6e6e6e" stroke-width="1"/>
<line x1="53.10" y1="482.20" x2="53.10" y2="484.70" stroke="#6e6e6e" stroke-width="1"/>
<text x="53.10" y="498.50" font-size="10.0" text-anchor="middle" fill="#111">2</text>
<line x1="72.01" y1="482.20" x2="72.01" y2="484.70" stroke="#6e6e6e" stroke-width="1"/>
<text x="72.01" y="498.50" font-size="10.0" text-anchor="middle" fill="#111">3</text>
<line x1="90.92" y1="482.20" x2="90.92" y2="484.70" stroke="#6e6e6e" stroke-width="1"/>
<text x="90.92" y="498.50" font-size="10.0" text-anchor="middle" fill="#111">4</text>
<line x1="109.83" y1="482.20" x2="109.83" y2="484.70" stroke="#6e6e6e" stroke-width="1"/>
<text x="109.83" y="498.50" font-size="10.0" text-anchor="middle" fill="#111">5</text>
<line x1="128.73" y1="482.20" x2="128.73" y2="484.70" stroke="#6e6e6e" stroke-width="1"/>
<text x="128.73" y="498.50" font-size="10.0" text-anchor="middle" fill="#111">6</text>
<line x1="147.64" y1="482.20" x2="147.64" y2="484.70" stroke="#6e6e6e" stroke-width="1"/>
<text x="147.64" y="498.50" font-size="10.0" text-anchor="middle" fill="#111">7</text>
<line x1="166.55" y1="482.20" x2="166.55" y2="484.70" stroke="#6e6e6e" stroke-width="1"/>
<text x="166.55" y="498.50" font-size="10.0" text-anchor="middle" fill="#111">8</text>
<line x1="185.46" y1="482.20" x2="185.46" y2="484.70" stroke="#6e6e6e" stroke-width="1"/>
<text x="185.46" y="498.50" font-size="10.0" text-anchor="middle" fill="#111">9</text>
<line x1="204.37" y1="482.20" x2="204.37" y2="484.70" stroke="#6e6e6e" stroke-width="1"/>
<text x="204.37" y="498.50" font-size="10.0" text-anchor="middle" fill="#111">10</text>
<line x1="223.28" y1="482.20" x2="223.28" y2="484.70" stroke="#6e6e6e" stroke-width="1"/>
<text x="223.28" y="498.50" font-size="10.0" text-anchor="middle" fill="#111">11</text>
<line x1="242.18" y1="482.20" x2="242.18" y2="484.70" stroke="#6e6e6e" stroke-width="1"/>
<text x="242.18" y="498.50" font-size="10.0" text-anchor="middle" fill="#111">12</text>
<line x1="261.09" y1="482.20" x2="261.09" y2="484.70" stroke="#6e6e6e" stroke-width="1"/>
<text x="261.09" y="498.50" font-size="10.0" text-anchor="middle" fill="#111">13</text>
<line x1="280.00" y1="482.20" x2="280.00" y2="484.70" stroke="#6e6e6e" stroke-width="1"/>
<text x="280.00" y="498.50" font-size="10.0" text-anchor="middle" fill="#111">14</text>
<text x="43.70" y="485.65" font-size="10.0" text-anchor="end" fill="#111">0</text>
<text x="43.70" y="471.68" font-size="10.0" text-anchor="end" fill="#111">1</text>
<text x="43.70" y="457.71" font-size="10.0" text-anchor="end" fill="#111">2</text>
<text x="43.70" y="443.74" font-size="10.0" text-anchor="end" fill="#111">3</text>
<text x="43.70" y="429.76" font-size="10.0" text-anchor="end" fill="#111">4</text>
<text x="43.70" y="415.79" font-size="10.0" text-anchor="end" fill="#111">5</text>
<text x="43.70" y="401.82" font-size="10.0" text-anchor="end" fill="#111">6</text>
<text x="43.70" y="387.85" font-size="10.0" text-anchor="end" fill="#111">7</text>
<text x="43.70" y="373.88" font-size="10.0" text-anchor="end" fill="#111">8</text>
<text x="43.70" y="359.91" font-size="10.0" text-anchor="end" fill="#111">9</text>
<text x="43.70" y="345.94" font-size="10.0" text-anchor="end" fill="#111">10</text>
<text x="43.70" y="331.96" font-size="10.0" text-anchor="end" fill="#111">11</text>
<text x="43.70" y="317.99" font-size="10.0" text-anchor="end" fill="#111">12</text>
<text x="43.70" y="304.02" font-size="10.0" text-anchor="end" fill="#111">13</text>
<text x="43.70" y="290.05" font-size="10.0" text-anchor="end" fill="#111">14</text>
<rect x="85.12" y="462.43" width="11.60" height="11.60" rx="0.6" fill="#fff" fill-opacity="0.8" stroke="#262626" stroke-width="1.05"/>
<rect x="85.12" y="448.46" width="11.60" height="11.60" rx="0.6" fill="#fff" fill-opacity="0.8" stroke="#262626" stroke-width="1.05"/>
<rect x="85.12" y="434.49" width="11.60" height="11.60" rx="0.6" fill="#fff" fill-opacity="0.8" stroke="#262626" stroke-width="1.05"/>
<rect x="104.03" y="448.46" width="11.60" height="11.60" rx="0.6" fill="#fff" fill-opacity="0.8" stroke="#262626" stroke-width="1.05"/>
<rect x="104.03" y="434.49" width="11.60" height="11.60" rx="0.6" fill="#fff" fill-opacity="0.8" stroke="#262626" stroke-width="1.05"/>
<rect x="104.03" y="420.51" width="11.60" height="11.60" rx="0.6" fill="#fff" fill-opacity="0.8" stroke="#262626" stroke-width="1.05"/>
<rect x="122.93" y="434.49" width="11.60" height="11.60" rx="0.6" fill="#fff" fill-opacity="0.8" stroke="#262626" stroke-width="1.05"/>
<rect x="122.93" y="420.51" width="11.60" height="11.60" rx="0.6" fill="#fff" fill-opacity="0.8" stroke="#262626" stroke-width="1.05"/>
<rect x="122.93" y="406.54" width="11.60" height="11.60" rx="0.6" fill="#fff" fill-opacity="0.8" stroke="#262626" stroke-width="1.05"/>
<rect x="141.84" y="434.49" width="11.60" height="11.60" rx="0.6" fill="#fff" fill-opacity="0.8" stroke="#262626" stroke-width="1.05"/>
<rect x="141.84" y="420.51" width="11.60" height="11.60" rx="0.6" fill="#fff" fill-opacity="0.8" stroke="#262626" stroke-width="1.05"/>
<rect x="141.84" y="406.54" width="11.60" height="11.60" rx="0.6" fill="#fff" fill-opacity="0.8" stroke="#262626" stroke-width="1.05"/>
<rect x="141.84" y="392.57" width="11.60" height="11.60" rx="0.6" fill="#fff" fill-opacity="0.8" stroke="#262626" stroke-width="1.05"/>
<rect x="160.75" y="420.51" width="11.60" height="11.60" rx="0.6" fill="#fff" fill-opacity="0.8" stroke="#262626" stroke-width="1.05"/>
<rect x="160.75" y="406.54" width="11.60" height="11.60" rx="0.6" fill="#fff" fill-opacity="0.8" stroke="#262626" stroke-width="1.05"/>
<rect x="160.75" y="392.57" width="11.60" height="11.60" rx="0.6" fill="#fff" fill-opacity="0.8" stroke="#262626" stroke-width="1.05"/>
<rect x="160.75" y="378.60" width="11.60" height="11.60" rx="0.6" fill="#fff" fill-opacity="0.8" stroke="#262626" stroke-width="1.05"/>
<rect x="179.66" y="406.54" width="11.60" height="11.60" rx="0.6" fill="#fff" fill-opacity="0.8" stroke="#262626" stroke-width="1.05"/>
<rect x="179.66" y="392.57" width="11.60" height="11.60" rx="0.6" fill="#fff" fill-opacity="0.8" stroke="#262626" stroke-width="1.05"/>
<rect x="179.66" y="378.60" width="11.60" height="11.60" rx="0.6" fill="#fff" fill-opacity="0.8" stroke="#262626" stroke-width="1.05"/>
<rect x="179.66" y="364.63" width="11.60" height="11.60" rx="0.6" fill="#fff" fill-opacity="0.8" stroke="#262626" stroke-width="1.05"/>
<rect x="198.57" y="392.57" width="11.60" height="11.60" rx="0.6" fill="#fff" fill-opacity="0.8" stroke="#262626" stroke-width="1.05"/>
<rect x="198.57" y="378.60" width="11.60" height="11.60" rx="0.6" fill="#fff" fill-opacity="0.8" stroke="#262626" stroke-width="1.05"/>
<rect x="198.57" y="364.63" width="11.60" height="11.60" rx="0.6" fill="#fff" fill-opacity="0.8" stroke="#262626" stroke-width="1.05"/>
<rect x="217.47" y="378.60" width="11.60" height="11.60" rx="0.6" fill="#fff" fill-opacity="0.8" stroke="#262626" stroke-width="1.05"/>
<rect x="217.47" y="364.63" width="11.60" height="11.60" rx="0.6" fill="#fff" fill-opacity="0.8" stroke="#262626" stroke-width="1.05"/>
<rect x="217.47" y="350.66" width="11.60" height="11.60" rx="0.6" fill="#fff" fill-opacity="0.8" stroke="#262626" stroke-width="1.05"/>
<rect x="236.38" y="364.63" width="11.60" height="11.60" rx="0.6" fill="#fff" fill-opacity="0.8" stroke="#262626" stroke-width="1.05"/>
<rect x="236.38" y="350.66" width="11.60" height="11.60" rx="0.6" fill="#fff" fill-opacity="0.8" stroke="#262626" stroke-width="1.05"/>
<rect x="236.38" y="336.69" width="11.60" height="11.60" rx="0.6" fill="#fff" fill-opacity="0.8" stroke="#262626" stroke-width="1.05"/>
<path d="M68.41 450.66L75.61 457.86M68.41 457.86L75.61 450.66" stroke="#262626" stroke-width="1.2" fill="none"/>
<path d="M68.41 436.69L75.61 443.89M68.41 443.89L75.61 436.69" stroke="#262626" stroke-width="1.2" fill="none"/>
<path d="M68.41 422.71L75.61 429.91M68.41 429.91L75.61 422.71" stroke="#262626" stroke-width="1.2" fill="none"/>
<path d="M68.41 408.74L75.61 415.94M68.41 415.94L75.61 408.74" stroke="#262626" stroke-width="1.2" fill="none"/>
<path d="M87.32 450.66L94.52 457.86M87.32 457.86L94.52 450.66" stroke="#262626" stroke-width="1.2" fill="none"/>
<path d="M87.32 436.69L94.52 443.89M87.32 443.89L94.52 436.69" stroke="#262626" stroke-width="1.2" fill="none"/>
<path d="M87.32 422.71L94.52 429.91M87.32 429.91L94.52 422.71" stroke="#262626" stroke-width="1.2" fill="none"/>
<path d="M87.32 408.74L94.52 415.94M87.32 415.94L94.52 408.74" stroke="#262626" stroke-width="1.2" fill="none"/>
<path d="M87.32 394.77L94.52 401.97M87.32 401.97L94.52 394.77" stroke="#262626" stroke-width="1.2" fill="none"/>
<path d="M106.23 450.66L113.43 457.86M106.23 457.86L113.43 450.66" stroke="#262626" stroke-width="1.2" fill="none"/>
<path d="M106.23 436.69L113.43 443.89M106.23 443.89L113.43 436.69" stroke="#262626" stroke-width="1.2" fill="none"/>
<path d="M106.23 422.71L113.43 429.91M106.23 429.91L113.43 422.71" stroke="#262626" stroke-width="1.2" fill="none"/>
<path d="M106.23 408.74L113.43 415.94M106.23 415.94L113.43 408.74" stroke="#262626" stroke-width="1.2" fill="none"/>
<path d="M106.23 394.77L113.43 401.97M106.23 401.97L113.43 394.77" stroke="#262626" stroke-width="1.2" fill="none"/>
<path d="M106.23 380.80L113.43 388.00M106.23 388.00L113.43 380.80" stroke="#262626" stroke-width="1.2" fill="none"/>
<path d="M106.23 366.83L113.43 374.03M106.23 374.03L113.43 366.83" stroke="#262626" stroke-width="1.2" fill="none"/>
<path d="M125.13 450.66L132.33 457.86M125.13 457.86L132.33 450.66" stroke="#262626" stroke-width="1.2" fill="none"/>
<path d="M125.13 436.69L132.33 443.89M125.13 443.89L132.33 436.69" stroke="#262626" stroke-width="1.2" fill="none"/>
<path d="M125.13 422.71L132.33 429.91M125.13 429.91L132.33 422.71" stroke="#262626" stroke-width="1.2" fill="none"/>
<path d="M125.13 408.74L132.33 415.94M125.13 415.94L132.33 408.74" stroke="#262626" stroke-width="1.2" fill="none"/>
<path d="M125.13 394.77L132.33 401.97M125.13 401.97L132.33 394.77" stroke="#262626" stroke-width="1.2" fill="none"/>
<path d="M125.13 380.80L132.33 388.00M125.13 388.00L132.33 380.80" stroke="#262626" stroke-width="1.2" fill="none"/>
<path d="M125.13 366.83L132.33 374.03M125.13 374.03L132.33 366.83" stroke="#262626" stroke-width="1.2" fill="none"/>
<path d="M125.13 352.86L132.33 360.06M125.13 360.06L132.33 352.86" stroke="#262626" stroke-width="1.2" fill="none"/>
<path d="M125.13 338.89L132.33 346.09M125.13 346.09L132.33 338.89" stroke="#262626" stroke-width="1.2" fill="none"/>
<path d="M144.04 450.66L151.24 457.86M144.04 457.86L151.24 450.66" stroke="#262626" stroke-width="1.2" fill="none"/>
<path d="M144.04 436.69L151.24 443.89M144.04 443.89L151.24 436.69" stroke="#262626" stroke-width="1.2" fill="none"/>
<path d="M144.04 422.71L151.24 429.91M144.04 429.91L151.24 422.71" stroke="#262626" stroke-width="1.2" fill="none"/>
<path d="M144.04 408.74L151.24 415.94M144.04 415.94L151.24 408.74" stroke="#262626" stroke-width="1.2" fill="none"/>
<path d="M144.04 394.77L151.24 401.97M144.04 401.97L151.24 394.77" stroke="#262626" stroke-width="1.2" fill="none"/>
<path d="M144.04 380.80L151.24 388.00M144.04 388.00L151.24 380.80" stroke="#262626" stroke-width="1.2" fill="none"/>
<path d="M144.04 366.83L151.24 374.03M144.04 374.03L151.24 366.83" stroke="#262626" stroke-width="1.2" fill="none"/>
<path d="M144.04 352.86L151.24 360.06M144.04 360.06L151.24 352.86" stroke="#262626" stroke-width="1.2" fill="none"/>
<path d="M144.04 338.89L151.24 346.09M144.04 346.09L151.24 338.89" stroke="#262626" stroke-width="1.2" fill="none"/>
<path d="M144.04 324.91L151.24 332.11M144.04 332.11L151.24 324.91" stroke="#262626" stroke-width="1.2" fill="none"/>
<path d="M162.95 436.69L170.15 443.89M162.95 443.89L170.15 436.69" stroke="#262626" stroke-width="1.2" fill="none"/>
<path d="M162.95 422.71L170.15 429.91M162.95 429.91L170.15 422.71" stroke="#262626" stroke-width="1.2" fill="none"/>
<path d="M162.95 408.74L170.15 415.94M162.95 415.94L170.15 408.74" stroke="#262626" stroke-width="1.2" fill="none"/>
<path d="M162.95 394.77L170.15 401.97M162.95 401.97L170.15 394.77" stroke="#262626" stroke-width="1.2" fill="none"/>
<path d="M162.95 380.80L170.15 388.00M162.95 388.00L170.15 380.80" stroke="#262626" stroke-width="1.2" fill="none"/>
<path d="M162.95 366.83L170.15 374.03M162.95 374.03L170.15 366.83" stroke="#262626" stroke-width="1.2" fill="none"/>
<path d="M162.95 352.86L170.15 360.06M162.95 360.06L170.15 352.86" stroke="#262626" stroke-width="1.2" fill="none"/>
<path d="M162.95 338.89L170.15 346.09M162.95 346.09L170.15 338.89" stroke="#262626" stroke-width="1.2" fill="none"/>
<path d="M162.95 324.91L170.15 332.11M162.95 332.11L170.15 324.91" stroke="#262626" stroke-width="1.2" fill="none"/>
<path d="M162.95 310.94L170.15 318.14M162.95 318.14L170.15 310.94" stroke="#262626" stroke-width="1.2" fill="none"/>
<path d="M181.86 422.71L189.06 429.91M181.86 429.91L189.06 422.71" stroke="#262626" stroke-width="1.2" fill="none"/>
<path d="M181.86 408.74L189.06 415.94M181.86 415.94L189.06 408.74" stroke="#262626" stroke-width="1.2" fill="none"/>
<path d="M181.86 394.77L189.06 401.97M181.86 401.97L189.06 394.77" stroke="#262626" stroke-width="1.2" fill="none"/>
<path d="M181.86 380.80L189.06 388.00M181.86 388.00L189.06 380.80" stroke="#262626" stroke-width="1.2" fill="none"/>
<path d="M181.86 366.83L189.06 374.03M181.86 374.03L189.06 366.83" stroke="#262626" stroke-width="1.2" fill="none"/>
<path d="M181.86 352.86L189.06 360.06M181.86 360.06L189.06 352.86" stroke="#262626" stroke-width="1.2" fill="none"/>
<path d="M181.86 338.89L189.06 346.09M181.86 346.09L189.06 338.89" stroke="#262626" stroke-width="1.2" fill="none"/>
<path d="M181.86 324.91L189.06 332.11M181.86 332.11L189.06 324.91" stroke="#262626" stroke-width="1.2" fill="none"/>
<path d="M181.86 310.94L189.06 318.14M181.86 318.14L189.06 310.94" stroke="#262626" stroke-width="1.2" fill="none"/>
<path d="M181.86 296.97L189.06 304.17M181.86 304.17L189.06 296.97" stroke="#262626" stroke-width="1.2" fill="none"/>
<path d="M200.77 394.77L207.97 401.97M200.77 401.97L207.97 394.77" stroke="#262626" stroke-width="1.2" fill="none"/>
<path d="M200.77 380.80L207.97 388.00M200.77 388.00L207.97 380.80" stroke="#262626" stroke-width="1.2" fill="none"/>
<path d="M200.77 366.83L207.97 374.03M200.77 374.03L207.97 366.83" stroke="#262626" stroke-width="1.2" fill="none"/>
<path d="M200.77 352.86L207.97 360.06M200.77 360.06L207.97 352.86" stroke="#262626" stroke-width="1.2" fill="none"/>
<path d="M200.77 338.89L207.97 346.09M200.77 346.09L207.97 338.89" stroke="#262626" stroke-width="1.2" fill="none"/>
<path d="M200.77 324.91L207.97 332.11M200.77 332.11L207.97 324.91" stroke="#262626" stroke-width="1.2" fill="none"/>
<path d="M200.77 310.94L207.97 318.14M200.77 318.14L207.97 310.94" stroke="#262626" stroke-width="1.2" fill="none"/>
<path d="M200.77 296.97L207.97 304.17M200.77 304.17L207.97 296.97" stroke="#262626" stroke-width="1.2" fill="none"/>
<path d="M219.68 380.80L226.88 388.00M219.68 388.00L226.88 380.80" stroke="#262626" stroke-width="1.2" fill="none"/>
<path d="M219.68 366.83L226.88 374.03M219.68 374.03L226.88 366.83" stroke="#262626" stroke-width="1.2" fill="none"/>
<path d="M219.68 352.86L226.88 360.06M219.68 360.06L226.88 352.86" stroke="#262626" stroke-width="1.2" fill="none"/>
<path d="M219.68 338.89L226.88 346.09M219.68 346.09L226.88 338.89" stroke="#262626" stroke-width="1.2" fill="none"/>
<path d="M219.68 324.91L226.88 332.11M219.68 332.11L226.88 324.91" stroke="#262626" stroke-width="1.2" fill="none"/>
<path d="M219.68 310.94L226.88 318.14M219.68 318.14L226.88 310.94" stroke="#262626" stroke-width="1.2" fill="none"/>
<path d="M219.68 296.97L226.88 304.17M219.68 304.17L226.88 296.97" stroke="#262626" stroke-width="1.2" fill="none"/>
<path d="M238.58 338.89L245.78 346.09M238.58 346.09L245.78 338.89" stroke="#262626" stroke-width="1.2" fill="none"/>
<path d="M238.58 324.91L245.78 332.11M238.58 332.11L245.78 324.91" stroke="#262626" stroke-width="1.2" fill="none"/>
<path d="M238.58 310.94L245.78 318.14M238.58 318.14L245.78 310.94" stroke="#262626" stroke-width="1.2" fill="none"/>
<path d="M238.58 296.97L245.78 304.17M238.58 304.17L245.78 296.97" stroke="#262626" stroke-width="1.2" fill="none"/>
<rect x="62.4" y="294.1" width="31.70" height="27.60" fill="#fff" stroke="#262626" stroke-width="1.3"/>
<text x="78.2" y="313.5" font-size="14.5" text-anchor="middle" fill="#111" style="stroke-width:0.7px">c</text>
<line x1="305.00" y1="484.30" x2="538.80" y2="484.30" stroke="#949494" stroke-width="1"/>
<line x1="305.00" y1="470.35" x2="538.80" y2="470.35" stroke="#949494" stroke-width="1"/>
<line x1="305.00" y1="456.40" x2="538.80" y2="456.40" stroke="#949494" stroke-width="1"/>
<line x1="305.00" y1="442.45" x2="538.80" y2="442.45" stroke="#949494" stroke-width="1"/>
<line x1="305.00" y1="428.50" x2="538.80" y2="428.50" stroke="#949494" stroke-width="1"/>
<line x1="305.00" y1="414.55" x2="538.80" y2="414.55" stroke="#949494" stroke-width="1"/>
<line x1="305.00" y1="400.60" x2="538.80" y2="400.60" stroke="#949494" stroke-width="1"/>
<line x1="305.00" y1="386.65" x2="538.80" y2="386.65" stroke="#949494" stroke-width="1"/>
<line x1="305.00" y1="372.70" x2="538.80" y2="372.70" stroke="#949494" stroke-width="1"/>
<line x1="305.00" y1="358.75" x2="538.80" y2="358.75" stroke="#949494" stroke-width="1"/>
<line x1="305.00" y1="344.80" x2="538.80" y2="344.80" stroke="#949494" stroke-width="1"/>
<line x1="305.00" y1="330.85" x2="538.80" y2="330.85" stroke="#949494" stroke-width="1"/>
<line x1="305.00" y1="316.90" x2="538.80" y2="316.90" stroke="#949494" stroke-width="1"/>
<line x1="305.00" y1="302.95" x2="538.80" y2="302.95" stroke="#949494" stroke-width="1"/>
<line x1="305.00" y1="289.00" x2="538.80" y2="289.00" stroke="#949494" stroke-width="1"/>
<line x1="538.80" y1="289.00" x2="538.80" y2="484.30" stroke="#b0b0b0" stroke-width="1"/>
<line x1="307.50" y1="289.00" x2="307.50" y2="486.80" stroke="#6e6e6e" stroke-width="1"/>
<line x1="305.00" y1="484.30" x2="538.80" y2="484.30" stroke="#6e6e6e" stroke-width="1"/>
<line x1="307.50" y1="484.30" x2="307.50" y2="486.80" stroke="#6e6e6e" stroke-width="1"/>
<text x="307.50" y="501.00" font-size="10.0" text-anchor="middle" fill="#111">2</text>
<line x1="326.77" y1="484.30" x2="326.77" y2="486.80" stroke="#6e6e6e" stroke-width="1"/>
<text x="326.77" y="501.00" font-size="10.0" text-anchor="middle" fill="#111">3</text>
<line x1="346.05" y1="484.30" x2="346.05" y2="486.80" stroke="#6e6e6e" stroke-width="1"/>
<text x="346.05" y="501.00" font-size="10.0" text-anchor="middle" fill="#111">4</text>
<line x1="365.32" y1="484.30" x2="365.32" y2="486.80" stroke="#6e6e6e" stroke-width="1"/>
<text x="365.32" y="501.00" font-size="10.0" text-anchor="middle" fill="#111">5</text>
<line x1="384.60" y1="484.30" x2="384.60" y2="486.80" stroke="#6e6e6e" stroke-width="1"/>
<text x="384.60" y="501.00" font-size="10.0" text-anchor="middle" fill="#111">6</text>
<line x1="403.88" y1="484.30" x2="403.88" y2="486.80" stroke="#6e6e6e" stroke-width="1"/>
<text x="403.88" y="501.00" font-size="10.0" text-anchor="middle" fill="#111">7</text>
<line x1="423.15" y1="484.30" x2="423.15" y2="486.80" stroke="#6e6e6e" stroke-width="1"/>
<text x="423.15" y="501.00" font-size="10.0" text-anchor="middle" fill="#111">8</text>
<line x1="442.42" y1="484.30" x2="442.42" y2="486.80" stroke="#6e6e6e" stroke-width="1"/>
<text x="442.42" y="501.00" font-size="10.0" text-anchor="middle" fill="#111">9</text>
<line x1="461.70" y1="484.30" x2="461.70" y2="486.80" stroke="#6e6e6e" stroke-width="1"/>
<text x="461.70" y="501.00" font-size="10.0" text-anchor="middle" fill="#111">10</text>
<line x1="480.97" y1="484.30" x2="480.97" y2="486.80" stroke="#6e6e6e" stroke-width="1"/>
<text x="480.97" y="501.00" font-size="10.0" text-anchor="middle" fill="#111">11</text>
<line x1="500.25" y1="484.30" x2="500.25" y2="486.80" stroke="#6e6e6e" stroke-width="1"/>
<text x="500.25" y="501.00" font-size="10.0" text-anchor="middle" fill="#111">12</text>
<line x1="519.52" y1="484.30" x2="519.52" y2="486.80" stroke="#6e6e6e" stroke-width="1"/>
<text x="519.52" y="501.00" font-size="10.0" text-anchor="middle" fill="#111">13</text>
<line x1="538.80" y1="484.30" x2="538.80" y2="486.80" stroke="#6e6e6e" stroke-width="1"/>
<text x="538.80" y="501.00" font-size="10.0" text-anchor="middle" fill="#111">14</text>
<text x="298.10" y="487.75" font-size="10.0" text-anchor="end" fill="#111">0</text>
<text x="298.10" y="473.80" font-size="10.0" text-anchor="end" fill="#111">1</text>
<text x="298.10" y="459.85" font-size="10.0" text-anchor="end" fill="#111">2</text>
<text x="298.10" y="445.90" font-size="10.0" text-anchor="end" fill="#111">3</text>
<text x="298.10" y="431.95" font-size="10.0" text-anchor="end" fill="#111">4</text>
<text x="298.10" y="418.00" font-size="10.0" text-anchor="end" fill="#111">5</text>
<text x="298.10" y="404.05" font-size="10.0" text-anchor="end" fill="#111">6</text>
<text x="298.10" y="390.10" font-size="10.0" text-anchor="end" fill="#111">7</text>
<text x="298.10" y="376.15" font-size="10.0" text-anchor="end" fill="#111">8</text>
<text x="298.10" y="362.20" font-size="10.0" text-anchor="end" fill="#111">9</text>
<text x="298.10" y="348.25" font-size="10.0" text-anchor="end" fill="#111">10</text>
<text x="298.10" y="334.30" font-size="10.0" text-anchor="end" fill="#111">11</text>
<text x="298.10" y="320.35" font-size="10.0" text-anchor="end" fill="#111">12</text>
<text x="298.10" y="306.40" font-size="10.0" text-anchor="end" fill="#111">13</text>
<text x="298.10" y="292.45" font-size="10.0" text-anchor="end" fill="#111">14</text>
<rect x="340.25" y="464.55" width="11.60" height="11.60" rx="0.6" fill="#fff" fill-opacity="0.8" stroke="#262626" stroke-width="1.05"/>
<rect x="340.25" y="450.60" width="11.60" height="11.60" rx="0.6" fill="#fff" fill-opacity="0.8" stroke="#262626" stroke-width="1.05"/>
<rect x="340.25" y="436.65" width="11.60" height="11.60" rx="0.6" fill="#fff" fill-opacity="0.8" stroke="#262626" stroke-width="1.05"/>
<rect x="359.52" y="450.60" width="11.60" height="11.60" rx="0.6" fill="#fff" fill-opacity="0.8" stroke="#262626" stroke-width="1.05"/>
<rect x="359.52" y="436.65" width="11.60" height="11.60" rx="0.6" fill="#fff" fill-opacity="0.8" stroke="#262626" stroke-width="1.05"/>
<rect x="359.52" y="422.70" width="11.60" height="11.60" rx="0.6" fill="#fff" fill-opacity="0.8" stroke="#262626" stroke-width="1.05"/>
<rect x="378.80" y="436.65" width="11.60" height="11.60" rx="0.6" fill="#fff" fill-opacity="0.8" stroke="#262626" stroke-width="1.05"/>
<rect x="378.80" y="422.70" width="11.60" height="11.60" rx="0.6" fill="#fff" fill-opacity="0.8" stroke="#262626" stroke-width="1.05"/>
<rect x="378.80" y="408.75" width="11.60" height="11.60" rx="0.6" fill="#fff" fill-opacity="0.8" stroke="#262626" stroke-width="1.05"/>
<rect x="398.07" y="436.65" width="11.60" height="11.60" rx="0.6" fill="#fff" fill-opacity="0.8" stroke="#262626" stroke-width="1.05"/>
<rect x="398.07" y="422.70" width="11.60" height="11.60" rx="0.6" fill="#fff" fill-opacity="0.8" stroke="#262626" stroke-width="1.05"/>
<rect x="398.07" y="408.75" width="11.60" height="11.60" rx="0.6" fill="#fff" fill-opacity="0.8" stroke="#262626" stroke-width="1.05"/>
<rect x="398.07" y="394.80" width="11.60" height="11.60" rx="0.6" fill="#fff" fill-opacity="0.8" stroke="#262626" stroke-width="1.05"/>
<rect x="417.35" y="422.70" width="11.60" height="11.60" rx="0.6" fill="#fff" fill-opacity="0.8" stroke="#262626" stroke-width="1.05"/>
<rect x="417.35" y="408.75" width="11.60" height="11.60" rx="0.6" fill="#fff" fill-opacity="0.8" stroke="#262626" stroke-width="1.05"/>
<rect x="417.35" y="394.80" width="11.60" height="11.60" rx="0.6" fill="#fff" fill-opacity="0.8" stroke="#262626" stroke-width="1.05"/>
<rect x="417.35" y="380.85" width="11.60" height="11.60" rx="0.6" fill="#fff" fill-opacity="0.8" stroke="#262626" stroke-width="1.05"/>
<rect x="436.62" y="408.75" width="11.60" height="11.60" rx="0.6" fill="#fff" fill-opacity="0.8" stroke="#262626" stroke-width="1.05"/>
<rect x="436.62" y="394.80" width="11.60" height="11.60" rx="0.6" fill="#fff" fill-opacity="0.8" stroke="#262626" stroke-width="1.05"/>
<rect x="436.62" y="380.85" width="11.60" height="11.60" rx="0.6" fill="#fff" fill-opacity="0.8" stroke="#262626" stroke-width="1.05"/>
<rect x="436.62" y="366.90" width="11.60" height="11.60" rx="0.6" fill="#fff" fill-opacity="0.8" stroke="#262626" stroke-width="1.05"/>
<rect x="455.90" y="394.80" width="11.60" height="11.60" rx="0.6" fill="#fff" fill-opacity="0.8" stroke="#262626" stroke-width="1.05"/>
<rect x="455.90" y="380.85" width="11.60" height="11.60" rx="0.6" fill="#fff" fill-opacity="0.8" stroke="#262626" stroke-width="1.05"/>
<rect x="455.90" y="366.90" width="11.60" height="11.60" rx="0.6" fill="#fff" fill-opacity="0.8" stroke="#262626" stroke-width="1.05"/>
<rect x="475.17" y="380.85" width="11.60" height="11.60" rx="0.6" fill="#fff" fill-opacity="0.8" stroke="#262626" stroke-width="1.05"/>
<rect x="475.17" y="366.90" width="11.60" height="11.60" rx="0.6" fill="#fff" fill-opacity="0.8" stroke="#262626" stroke-width="1.05"/>
<rect x="475.17" y="352.95" width="11.60" height="11.60" rx="0.6" fill="#fff" fill-opacity="0.8" stroke="#262626" stroke-width="1.05"/>
<rect x="494.45" y="366.90" width="11.60" height="11.60" rx="0.6" fill="#fff" fill-opacity="0.8" stroke="#262626" stroke-width="1.05"/>
<rect x="494.45" y="352.95" width="11.60" height="11.60" rx="0.6" fill="#fff" fill-opacity="0.8" stroke="#262626" stroke-width="1.05"/>
<rect x="494.45" y="339.00" width="11.60" height="11.60" rx="0.6" fill="#fff" fill-opacity="0.8" stroke="#262626" stroke-width="1.05"/>
<rect x="324.62" y="468.20" width="4.30" height="4.30" fill="#000"/>
<rect x="343.90" y="468.20" width="4.30" height="4.30" fill="#000"/>
<rect x="343.90" y="454.25" width="4.30" height="4.30" fill="#000"/>
<rect x="363.18" y="468.20" width="4.30" height="4.30" fill="#000"/>
<rect x="363.18" y="454.25" width="4.30" height="4.30" fill="#000"/>
<rect x="363.18" y="440.30" width="4.30" height="4.30" fill="#000"/>
<rect x="363.18" y="426.35" width="4.30" height="4.30" fill="#000"/>
<rect x="382.45" y="454.25" width="4.30" height="4.30" fill="#000"/>
<rect x="382.45" y="440.30" width="4.30" height="4.30" fill="#000"/>
<rect x="382.45" y="426.35" width="4.30" height="4.30" fill="#000"/>
<rect x="382.45" y="412.40" width="4.30" height="4.30" fill="#000"/>
<rect x="382.45" y="398.45" width="4.30" height="4.30" fill="#000"/>
<rect x="401.73" y="440.30" width="4.30" height="4.30" fill="#000"/>
<rect x="401.73" y="426.35" width="4.30" height="4.30" fill="#000"/>
<rect x="401.73" y="412.40" width="4.30" height="4.30" fill="#000"/>
<rect x="401.73" y="398.45" width="4.30" height="4.30" fill="#000"/>
<rect x="401.73" y="384.50" width="4.30" height="4.30" fill="#000"/>
<rect x="421.00" y="440.30" width="4.30" height="4.30" fill="#000"/>
<rect x="421.00" y="426.35" width="4.30" height="4.30" fill="#000"/>
<rect x="421.00" y="412.40" width="4.30" height="4.30" fill="#000"/>
<rect x="421.00" y="398.45" width="4.30" height="4.30" fill="#000"/>
<rect x="421.00" y="384.50" width="4.30" height="4.30" fill="#000"/>
<rect x="440.27" y="426.35" width="4.30" height="4.30" fill="#000"/>
<rect x="440.27" y="412.40" width="4.30" height="4.30" fill="#000"/>
<rect x="440.27" y="398.45" width="4.30" height="4.30" fill="#000"/>
<rect x="440.27" y="384.50" width="4.30" height="4.30" fill="#000"/>
<rect x="440.27" y="370.55" width="4.30" height="4.30" fill="#000"/>
<rect x="459.55" y="412.40" width="4.30" height="4.30" fill="#000"/>
<rect x="459.55" y="398.45" width="4.30" height="4.30" fill="#000"/>
<rect x="459.55" y="384.50" width="4.30" height="4.30" fill="#000"/>
<rect x="459.55" y="370.55" width="4.30" height="4.30" fill="#000"/>
<rect x="478.82" y="398.45" width="4.30" height="4.30" fill="#000"/>
<rect x="478.82" y="384.50" width="4.30" height="4.30" fill="#000"/>
<rect x="478.82" y="370.55" width="4.30" height="4.30" fill="#000"/>
<rect x="498.10" y="384.50" width="4.30" height="4.30" fill="#000"/>
<rect x="498.10" y="370.55" width="4.30" height="4.30" fill="#000"/>
<rect x="498.10" y="356.60" width="4.30" height="4.30" fill="#000"/>
<rect x="318.5" y="295" width="31.70" height="28.20" fill="#fff" stroke="#262626" stroke-width="1.3"/>
<text x="334.0" y="314.9" font-size="15" text-anchor="middle" fill="#111">d</text>
<path d="M53.10 9.00L60.30 16.20M53.10 16.20L60.30 9.00" stroke="#262626" stroke-width="1.15" fill="none"/>
<text x="62.2" y="16.3" font-size="11.2" fill="#111" style="stroke-width:0.38px" textLength="22.5" lengthAdjust="spacingAndGlyphs">TFA</text>
<rect x="100.30" y="9.10" width="7.20" height="7.20" fill="#fff" stroke="#262626" stroke-width="1"/>
<text x="109.4" y="16.3" font-size="11.2" fill="#111" style="stroke-width:0.38px" textLength="166.5" lengthAdjust="spacingAndGlyphs">T. reesei cellulase - 50°C - pH 5</text>
<path d="M301.80 5.10L308.80 12.10M301.80 12.10L308.80 5.10" stroke="#262626" stroke-width="1.15" fill="none"/>
<text x="310.8" y="12.5" font-size="11.2" fill="#111" style="stroke-width:0.38px" textLength="22.5" lengthAdjust="spacingAndGlyphs">TFA</text>
<rect x="303.20" y="20.20" width="3.80" height="3.80" fill="#000"/>
<text x="310.3" y="25.5" font-size="11.2" fill="#111" style="stroke-width:0.38px" textLength="236.0" lengthAdjust="spacingAndGlyphs">Termite hindgut homogenates - 27°C - pH 6.5</text>
<path d="M49.80 262.60L56.80 269.60M49.80 269.60L56.80 262.60" stroke="#262626" stroke-width="1.15" fill="none"/>
<text x="59.4" y="270.2" font-size="11.2" fill="#111" style="stroke-width:0.38px" textLength="22.5" lengthAdjust="spacingAndGlyphs">TFA</text>
<rect x="93.70" y="262.10" width="7.40" height="7.40" fill="#fff" stroke="#262626" stroke-width="1"/>
<text x="103.2" y="270.2" font-size="11.2" fill="#111" style="stroke-width:0.38px" textLength="176.7" lengthAdjust="spacingAndGlyphs">T. reesei cellulase - 27°C - pH 6.5</text>
<rect x="300.40" y="258.70" width="7.40" height="7.40" fill="#fff" stroke="#262626" stroke-width="1"/>
<text x="309.6" y="266.0" font-size="11.2" fill="#111" style="stroke-width:0.38px" textLength="177.1" lengthAdjust="spacingAndGlyphs">T. reesei cellulase - 27°C - pH 6.5</text>
<rect x="302.40" y="278.00" width="3.60" height="3.60" fill="#000"/>
<text x="309.8" y="283.5" font-size="11.2" fill="#111" style="stroke-width:0.38px" textLength="236.1" lengthAdjust="spacingAndGlyphs">Termite hindgut homogenates - 27°C - pH 6.5</text>
<text x="196.2" y="522.0" font-size="15.3" textLength="208" lengthAdjust="spacingAndGlyphs" fill="#111">Degree of Polymerization (DP)</text>
<text transform="translate(17.5,355.1) rotate(-90)" font-size="15.3" textLength="201.9" lengthAdjust="spacing" fill="#111">Number of substituents (NS)</text>
</svg>
</body></html>
